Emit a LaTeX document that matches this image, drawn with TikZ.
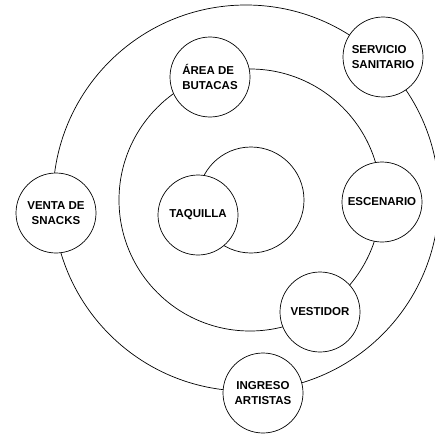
\documentclass[tikz,border=0pt]{standalone}
\usepackage{fontspec}
\setmainfont{Liberation Sans}

\begin{document}
\begin{tikzpicture}[
  x=1pt, y=-1pt,
  font=\fontsize{11.5}{14.5}\selectfont\bfseries,
  sala/.style={draw, circle, fill=white, minimum size=80pt, inner sep=0pt,
    align=center, line width=0.7pt},
  anillo/.style={line width=0.7pt},
]
  \useasboundingbox (0,0) rectangle (435,436);

  \coordinate (exterior) at (246,198);
  \coordinate (medio) at (250,200);
  \coordinate (interior) at (251,200);

  \draw[anillo] (exterior) circle (193pt);
  \draw[anillo] (medio) circle (131pt);
  \draw[anillo] (interior) circle (53pt);

  \node[sala, align=left] (servicio) at (383,57)  {SERVICIO\\SANITARIO};
  \node[sala] (snacks)   at (56,213)  {VENTA DE\\SNACKS};
  \node[sala] (ingreso)  at (263,393) {INGRESO\\ARTISTAS};
  \node[sala, align=left] (butacas)  at (210,77)  {ÁREA DE\\BUTACAS};
  \node[sala] (escenario) at (382,202) {ESCENARIO};
  \node[sala] (vestidor) at (320,312) {VESTIDOR};
  \node[sala] (taquilla) at (198,215) {TAQUILLA};
\end{tikzpicture}
\end{document}
